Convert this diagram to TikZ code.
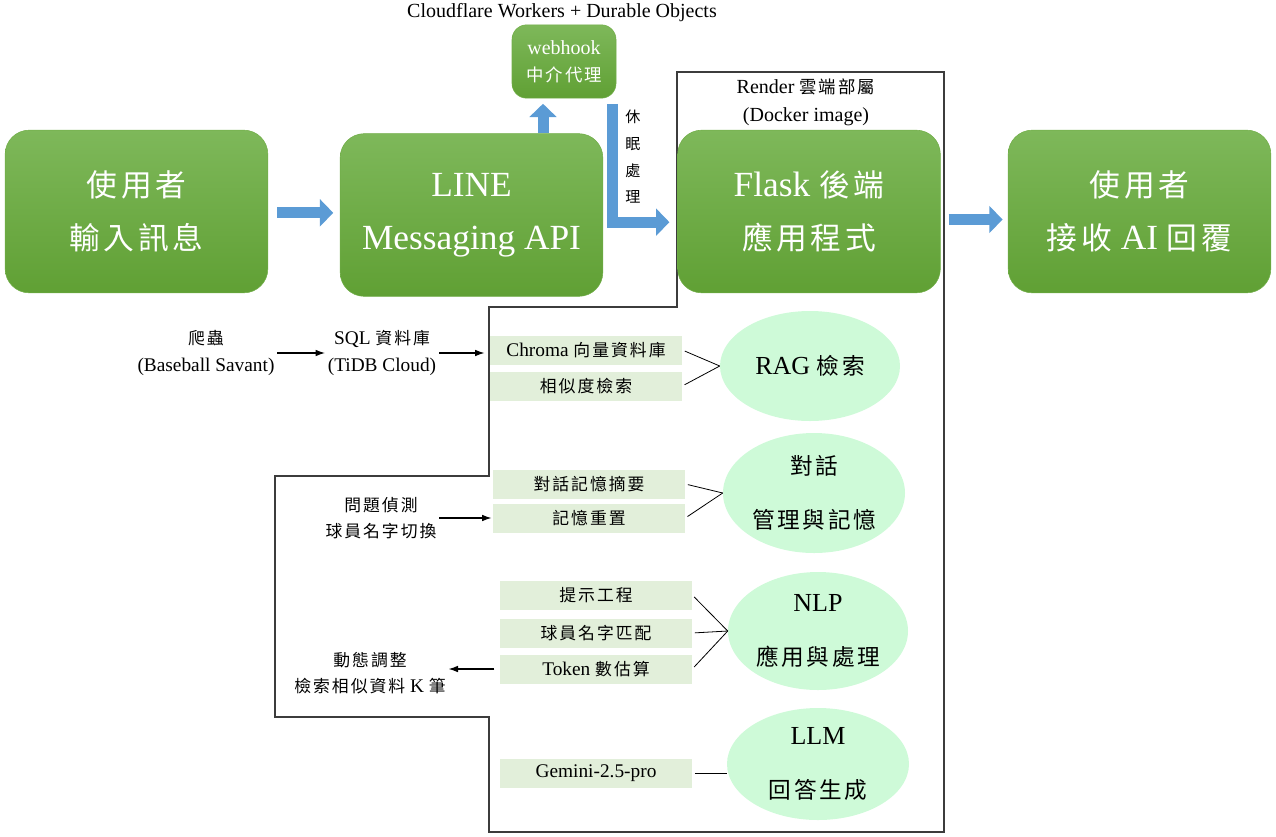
\documentclass[tikz,border=0pt]{standalone}
\usepackage{fontspec}
\setmainfont{Liberation Serif}
\newfontfamily\cjk[Scale=0.87,LetterSpace=12]{Noto Sans CJK TC}
\newcommand{\zh}[1]{{\cjk #1}}
\usetikzlibrary{positioning, arrows.meta, shapes}

\definecolor{boxtop}{RGB}{126,184,90}
\definecolor{boxbot}{RGB}{96,160,52}
\definecolor{boxedge}{RGB}{112,173,71}
\definecolor{tagfill}{RGB}{226,239,218}
\definecolor{mint}{RGB}{206,250,216}
\definecolor{flowblue}{RGB}{91,155,213}
\definecolor{outlinegray}{RGB}{60,60,60}

\tikzset{
    bigbox/.style={rounded corners=18pt, minimum width=197pt, minimum height=122pt,
        top color=boxtop, bottom color=boxbot, draw=boxedge, text=white,
        align=center, font=\fontsize{26.5}{40}\selectfont},
    hookbox/.style={rounded corners=11pt, minimum width=78pt, minimum height=55pt,
        top color=boxtop, bottom color=boxbot, draw=boxedge, text=white,
        align=center, font=\fontsize{15}{20}\selectfont},
    tagbox/.style={fill=tagfill, minimum width=144pt, minimum height=21.75pt,
        inner sep=0pt, font=\fontsize{14.5}{18}\selectfont},
    topic/.style={ellipse, fill=mint, inner sep=0pt, align=center,
        font=\fontsize{19.5}{40}\selectfont},
    plaintext/.style={align=center, inner sep=2pt, font=\fontsize{14.5}{20}\selectfont},
    flowarrow/.style={draw=flowblue, line width=8.25pt, line join=miter,
        -{Triangle[length=10pt, width=20pt]}},
    thinarrow/.style={draw=black, line width=0.8pt, -{Latex[length=7pt, width=5pt]}},
    joinline/.style={draw=black, line width=0.6pt, shorten <=2pt},
}

\begin{document}
\begin{tikzpicture}[x=0.75pt, y=-0.75pt]
        \useasboundingbox (0,0) rectangle (1276,836);

        % Render deployment outline
        \draw[outlinegray, line width=1pt] (677,72) -- (944,72) -- (944,832) -- (489,832)
            -- (489,717) -- (275,717) -- (275,476) -- (489,476) -- (489,307) -- (677,307) -- cycle;

        \node[bigbox] (user) at (136.5,211.5) {\zh{使用者}\\\zh{輸入訊息}};
        \node[bigbox] (line) at (471.5,215) {LINE\\Messaging API};
        \node[bigbox] (flask) at (809,211.5) {Flask \zh{後端}\\\zh{應用程式}};
        \node[bigbox] (reply) at (1139.5,211.5) {\zh{使用者}\\\zh{接收} AI \zh{回覆}};

        \node[hookbox] (webhook) at (564,61.5) {webhook\\\zh{中介代理}};
        \node[font=\fontsize{15}{20}\selectfont] (cf) at (562,13) {Cloudflare Workers + Durable Objects};
        \node[plaintext, font=\fontsize{15}{21}\selectfont] (render) at (806,102) {Render \zh{雲端部屬}\\(Docker image)};
        \node[align=center, inner sep=0pt, font=\fontsize{13}{20}\selectfont] (sleep) at (633,157)
            {\zh{休}\\\zh{眠}\\\zh{處}\\\zh{理}};

        \coordinate (usertail) at ([xshift=7pt,yshift=-1pt]user.east);
        \draw[flowarrow] (usertail) -- ([xshift=-5pt]usertail -| line.west);
        \draw[flowarrow] ([xshift=6pt,yshift=-6pt]flask.east) -- ([xshift=-4pt,yshift=-6pt]reply.west);
        \coordinate (uptip) at ([xshift=-15.75pt,yshift=-4pt]webhook.south);
        \draw[flowarrow] (uptip |- line.north) -- (uptip);
        \coordinate (bendtip) at ([xshift=-6pt,yshift=-8pt]flask.west);
        \draw[flowarrow] ([xshift=-3pt,yshift=-4pt]webhook.south east) |- (bendtip);

        % feature boxes
        \node[tagbox] (chroma) at (586,350) {Chroma \zh{向量資料庫}};
        \node[tagbox] (simsearch) at (586,386) {\zh{相似度檢索}};
        \node[tagbox] (memsum) at (589,484) {\zh{對話記憶摘要}};
        \node[tagbox] (memreset) at (589,518) {\zh{記憶重置}};
        \node[tagbox] (prompt) at (596,595) {\zh{提示工程}};
        \node[tagbox] (namematch) at (596,633) {\zh{球員名字匹配}};
        \node[tagbox] (token) at (596,669) {Token \zh{數估算}};
        \node[tagbox] (gemini) at (596,773) {Gemini-2.5-pro};

        \node[topic, minimum width=135pt, minimum height=82.5pt] (rag) at (810,366) {RAG \zh{檢索}};
        \node[topic, minimum width=136.5pt, minimum height=90pt] (dialog) at (814,493) {\zh{對話}\\\zh{管理與記憶}};
        \node[topic, minimum width=135pt, minimum height=88.5pt] (nlp) at (818,631) {NLP\\\zh{應用與處理}};
        \node[topic, minimum width=136.5pt, minimum height=84pt] (llm) at (818,764) {LLM\\\zh{回答生成}};

        \foreach \tag in {chroma, simsearch}{
                \draw[joinline] (\tag.east) -- (rag.west);
            }
        \foreach \tag in {memsum, memreset}{
                \draw[joinline] (\tag.east) -- (dialog.west);
            }
        \foreach \tag in {prompt, namematch, token}{
                \draw[joinline] (\tag.east) -- (nlp.west);
            }
        \draw[joinline] (gemini.east) -- (gemini.east -| llm.west);

        % side notes
        \node[plaintext] (crawler) at (206,353) {\zh{爬蟲}\\(Baseball Savant)};
        \node[plaintext] (sqldb) at (382,353) {SQL \zh{資料庫}\\(TiDB Cloud)};
        \node[plaintext] (detect) at (381,518) {\zh{問題偵測}\\\zh{球員名字切換}};
        \node[plaintext] (topk) at (370,673) {\zh{動態調整}\\\zh{檢索相似資料} K \zh{筆}};

        \draw[thinarrow] (crawler.east) -- (crawler.east -| sqldb.west);
        \draw[thinarrow] (sqldb.east) -- ([xshift=-4pt]sqldb.east -| chroma.west);
        \draw[thinarrow] (detect.east) -- ([xshift=-1pt]detect.east -| memreset.west);
        \draw[thinarrow] ([xshift=-4pt]token.west) -- (token.west -| topk.east);

    \end{tikzpicture}
\end{document}
